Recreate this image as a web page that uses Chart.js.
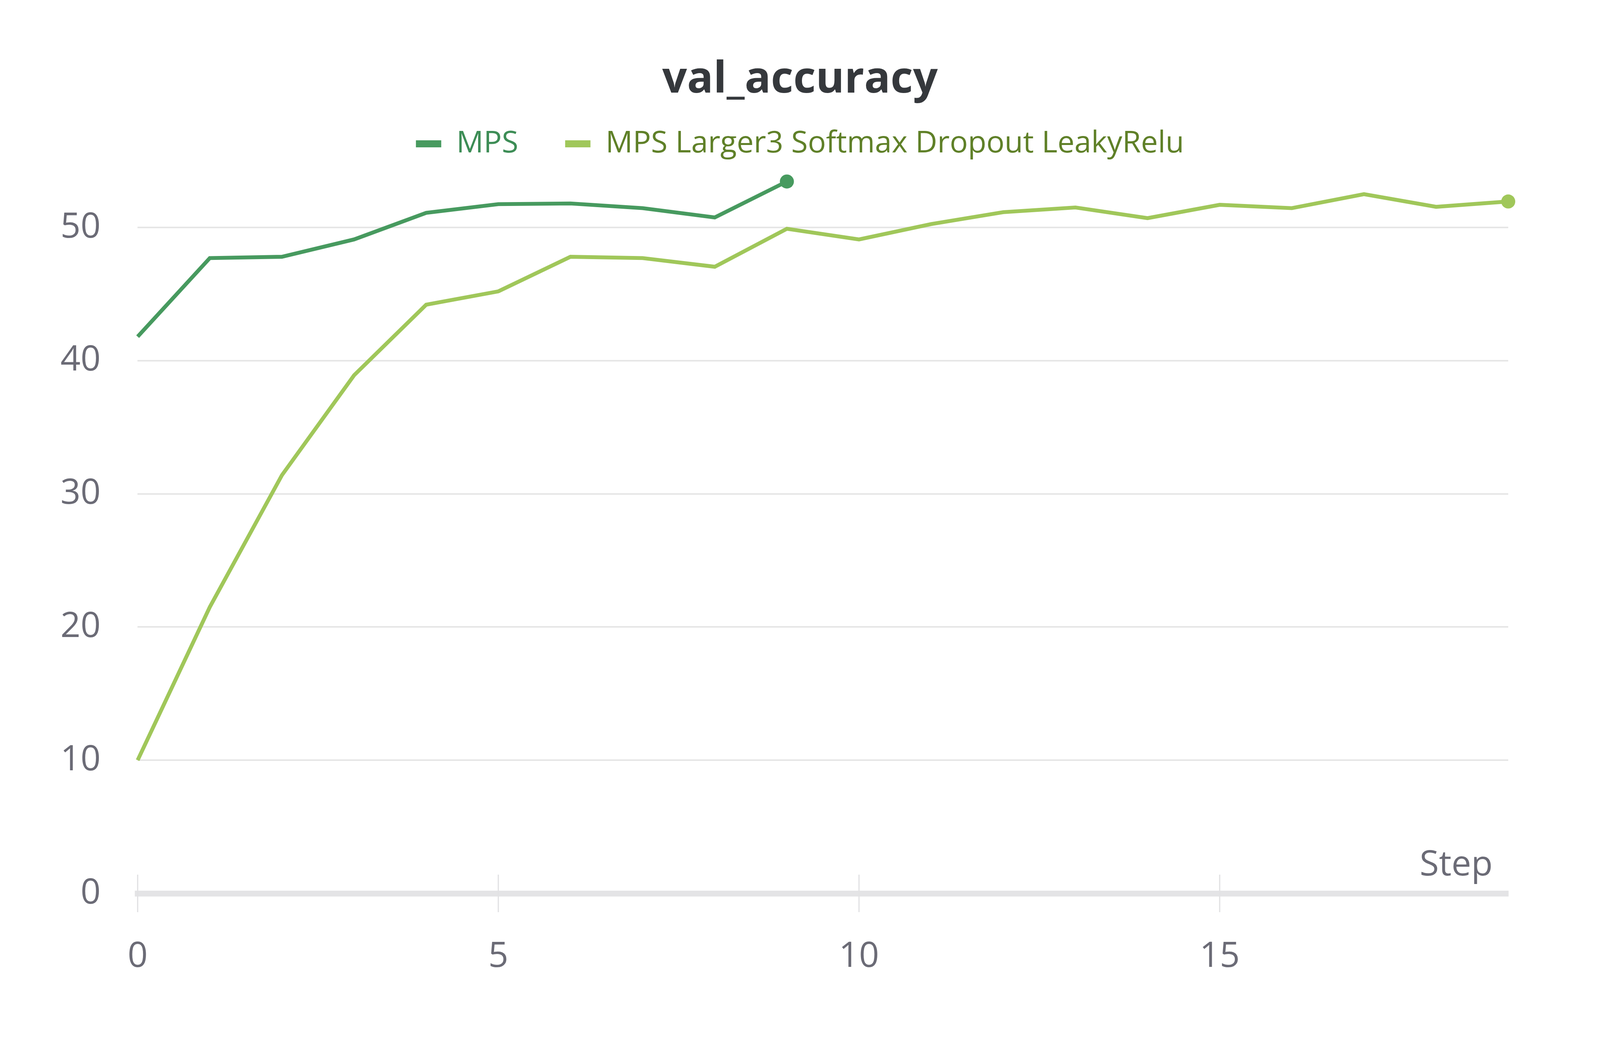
<!DOCTYPE html>
<html>
<head>
<meta charset="utf-8">
<title>val_accuracy</title>
<script src="https://cdn.jsdelivr.net/npm/chart.js@4"></script>
<style>
  html, body { margin: 0; padding: 0; background: #ffffff; overflow: hidden; }
  #valChart { display: block; position: fixed; left: 0; top: 0; }
</style>
</head>
<body>
<canvas id="valChart"></canvas>
<script>
// data
const mpsSteps = [0, 1, 2, 3, 4, 5, 6, 7, 8, 9];
const mpsValues = [41.8, 47.7, 47.8, 49.1, 51.1, 51.75, 51.8, 51.45, 50.75, 53.45];

const largerSteps = [0, 1, 2, 3, 4, 5, 6, 7, 8, 9, 10, 11, 12, 13, 14, 15, 16, 17, 18, 19];
const largerValues = [10.0, 21.5, 31.4, 38.9, 44.2, 45.2, 47.8, 47.7, 47.05, 49.9,
                      49.1, 50.25, 51.15, 51.5, 50.7, 51.7, 51.45, 52.5, 51.55, 51.95];

const seriesNames = ["MPS", "MPS Larger3 Softmax Dropout LeakyRelu"];
const lineColors = ["#479a5f", "#a0c75a"];
const labelColors = ["#3d8d56", "#5f8028"];

const xTicks = [0, 5, 10, 15];
const yTicks = [0, 10, 20, 30, 40, 50];

const FONT = "'Open Sans', 'Noto Sans', sans-serif";
const TICK_COLOR = "#6b6b76";

// the layout was measured on a 5056x2656 picture; scale it to whatever window we get
const W = window.innerWidth, H = window.innerHeight;
const fx = W / 5056, fy = H / 2656, fs = Math.sqrt(fx * fy);

const canvas = document.getElementById("valChart");
canvas.width = W;
canvas.height = H;
canvas.style.width = W + "px";
canvas.style.height = H + "px";

const titleSize = 124 * fs;
const titleTop = 205 * fy - titleSize * 0.6;
const legendSize = 86 * fs;
const legendGap = 148 * fx;
const titleBottom = 368 * fy - legendGap - legendSize / 2 - titleTop - titleSize * 1.2;
const areaTop = 368 * fy - legendSize / 2 + legendSize + 10;  // legend box bottom
const zeroPx = 2286 * fy;
const pxPerUnit = (2286 - 582) * fy / 50;
const yMax = (zeroPx - areaTop) / pxPerUnit;

const toPoints = (xs, ys) => xs.map((x, i) => ({ x: x, y: ys[i] }));
const lastDot = (ctx) => ctx.dataIndex === ctx.dataset.data.length - 1 ? 20 * fs : 0;

// tick marks that cross the x axis, plus the "Step" label sitting above it
const axisExtras = {
  id: "axisExtras",
  beforeDatasetsDraw(chart) {
    const ctx = chart.ctx;
    const xs = chart.scales.x;
    const bottom = chart.chartArea.bottom;
    ctx.save();
    ctx.strokeStyle = "#e2e2e4";
    ctx.lineWidth = 4 * fx;
    xTicks.forEach(v => {
      const px = xs.getPixelForValue(v);
      ctx.beginPath();
      ctx.moveTo(px, bottom - 48 * fy);
      ctx.lineTo(px, bottom + 48 * fy);
      ctx.stroke();
    });
    ctx.restore();
  },
  afterDraw(chart) {
    const ctx = chart.ctx;
    const area = chart.chartArea;
    ctx.save();
    ctx.font = (100 * fs) + "px " + FONT;
    ctx.fillStyle = TICK_COLOR;
    ctx.textAlign = "right";
    ctx.textBaseline = "alphabetic";
    ctx.fillText("Step", area.right - 49 * fx, area.bottom - 46 * fy);
    ctx.restore();
  }
};

const makeDataset = (i, xs, ys) => ({
  label: seriesNames[i],
  data: toPoints(xs, ys),
  borderColor: lineColors[i],
  backgroundColor: lineColors[i],
  borderWidth: 11 * fs,
  pointRadius: lastDot,
  pointBorderWidth: 0,
  pointBackgroundColor: lineColors[i],
  tension: 0,
  clip: false,
  xAxisID: "x",
  yAxisID: "y"
});

new Chart(canvas, {
  type: "line",
  data: {
    datasets: [
      makeDataset(0, mpsSteps, mpsValues),
      makeDataset(1, largerSteps, largerValues)
    ]
  },
  options: {
    responsive: false,
    devicePixelRatio: 1,
    animation: false,
    layout: { padding: 0 },
    scales: {
      x: {
        type: "linear",
        min: 0,
        max: 19,
        afterFit(scale) { scale.height = H - zeroPx; },
        afterBuildTicks(scale) { scale.ticks = xTicks.map(v => ({ value: v })); },
        ticks: { padding: 100 * fy, color: TICK_COLOR, font: { family: FONT, size: 100 * fs } },
        grid: { display: false },
        border: { display: true, color: "#e4e4e6", width: 15 * fy }
      },
      y: {
        type: "linear",
        position: "left",
        min: 0,
        max: yMax,
        afterFit(scale) { scale.width = 435 * fx; },
        afterBuildTicks(scale) { scale.ticks = yTicks.map(v => ({ value: v })); },
        ticks: { padding: 117 * fx, color: TICK_COLOR, font: { family: FONT, size: 100 * fs } },
        grid: { color: "#e6e6e6", lineWidth: 4 * fy, drawTicks: false },
        border: { display: false }
      },
      pad: {
        type: "linear",
        position: "right",
        afterFit(scale) { scale.width = 290 * fx; },
        ticks: { display: false },
        grid: { display: false },
        border: { display: false }
      }
    },
    plugins: {
      title: {
        display: true,
        text: "val_accuracy",
        color: "#35383c",
        font: { family: FONT, size: titleSize, weight: "bold" },
        padding: { top: titleTop, bottom: titleBottom }
      },
      legend: {
        display: true,
        labels: {
          boxWidth: 80 * fx,
          boxHeight: 18 * fy,
          useBorderRadius: true,
          borderRadius: 8 * fs,
          padding: legendGap,
          font: { family: FONT, size: legendSize },
          generateLabels(chart) {
            return chart.data.datasets.map((ds, i) => ({
              text: ds.label,
              fillStyle: lineColors[i],
              strokeStyle: lineColors[i],
              lineWidth: 0,
              fontColor: labelColors[i],
              hidden: false,
              datasetIndex: i
            }));
          }
        }
      },
      tooltip: { enabled: false }
    }
  },
  plugins: [axisExtras]
});
</script>
</body>
</html>
